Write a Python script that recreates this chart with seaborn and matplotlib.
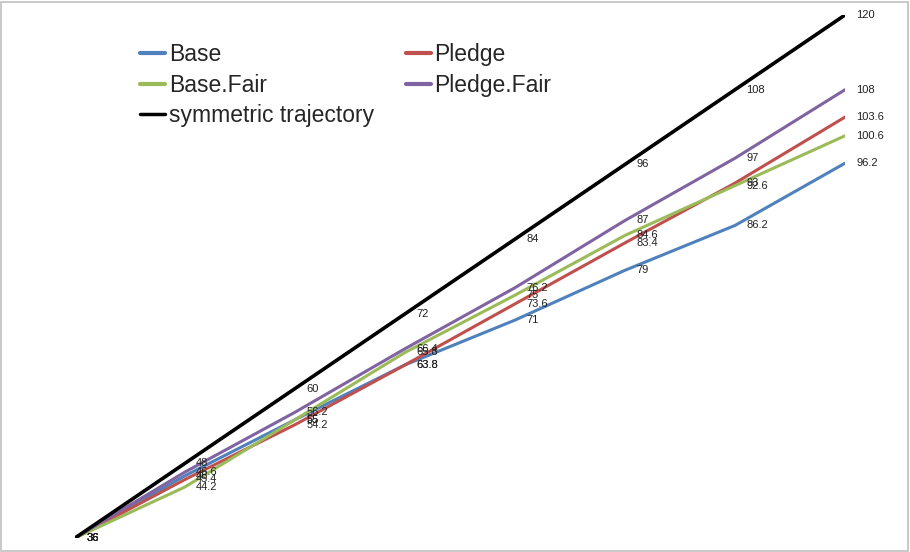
import numpy as np
import pandas as pd
import seaborn as sns
import matplotlib.pyplot as plt
from matplotlib.patches import Rectangle

steps = [0, 1, 2, 3, 4, 5, 6, 7]
base = [36, 46.0, 55, 63.8, 71, 79, 86.2, 96.2]
pledge = [36, 45.4, 54.2, 63.8, 73.6, 83.4, 93, 103.6]
base_fair = [36, 44.2, 55, 65.8, 75, 84.6, 92.6, 100.6]
pledge_fair = [36, 46.6, 56.2, 66.4, 76.2, 87, 97, 108]
symmetric = [36, 48, 60, 72, 84, 96, 108, 120]

series_names = ['Base', 'Pledge', 'Base.Fair', 'Pledge.Fair', 'symmetric trajectory']
colors = ['#4F81BD', '#C0504D', '#9BBB59', '#8064A2', '#000000']

df = pd.concat([
    pd.DataFrame({'step': steps, 'value': vals, 'series': name})
    for name, vals in zip(series_names, [base, pledge, base_fair, pledge_fair, symmetric])
])

sns.set_theme(style="white")
plt.rcParams['font.family'] = ['Liberation Sans', 'DejaVu Sans']

fig = plt.figure(figsize=(9.1, 5.52), dpi=100)
ax = fig.add_axes([75 / 910, 14 / 552, 770 / 910, 523 / 552])

sns.lineplot(data=df, x='step', y='value', hue='series', hue_order=series_names,
             palette=dict(zip(series_names, colors)), linewidth=2.2, ax=ax, legend=False)
# symmetric line a bit heavier
ax.lines[-1].set_linewidth(2.6)

# data labels (right of each point)
for name, vals in zip(series_names, [base, pledge, base_fair, pledge_fair, symmetric]):
    for x, v in zip(steps, vals):
        ax.annotate(f"{v:g}", (x, v), xytext=(8, 0), textcoords='offset points',
                    fontsize=8, va='center', ha='left', color='#222222',
                    annotation_clip=False)

ax.set_xlim(0, 7)
ax.set_ylim(36, 120)
ax.axis('off')

# legend filled row-wise: Base, Pledge / Base.Fair, Pledge.Fair / symmetric
handles = [plt.Line2D([], [], color=c, lw=3 if c != '#000000' else 2.5) for c in colors]
order = [0, 2, 4, 1, 3]
fig.legend([handles[i] for i in order], [series_names[i] for i in order],
           ncol=2, loc='upper left', bbox_to_anchor=(140 / 910, 1 - 43 / 552),
           frameon=False, fontsize=16.5, handlelength=1.1, handletextpad=0.15,
           columnspacing=1.4, labelspacing=0.33, borderpad=0, borderaxespad=0)

fig.patches.append(Rectangle((1 / 910, 1 / 552), 907 / 910, 549 / 552, transform=fig.transFigure,
                             fill=False, edgecolor='#c0c0c0', linewidth=1.2))

fig.savefig('out.png', dpi=100)
